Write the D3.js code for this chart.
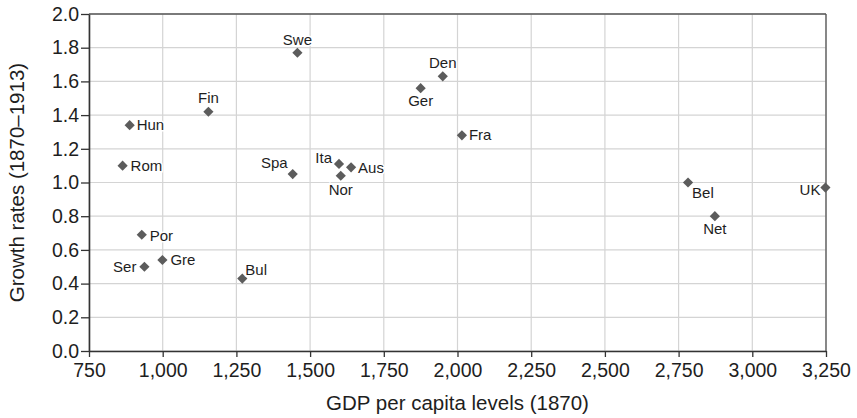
<!DOCTYPE html>
<html>
<head>
<meta charset="utf-8">
<script src="https://cdn.jsdelivr.net/npm/d3@7"></script>
<style>
  html, body { margin: 0; padding: 0; background: #fff; }
  svg { display: block; font-family: "Liberation Sans", Arial, Helvetica, sans-serif; }
</style>
</head>
<body>
<svg id="chart" width="857" height="418"></svg>
<script>
// Country codes with GDP per capita (1870) and growth rate 1870–1913
const countries = ["Hun","Rom","Fin","Spa","Swe","Por","Ser","Gre","Bul","Den","Ger","Fra","Ita","Aus","Nor","Bel","Net","UK"];
const gdp1870   = [888, 864, 1155, 1441, 1457, 929, 938, 999, 1270, 1950, 1875, 2015, 1598, 1639, 1604, 2782, 2873, 3248];
const growth    = [1.34, 1.10, 1.42, 1.05, 1.77, 0.69, 0.50, 0.54, 0.43, 1.63, 1.56, 1.28, 1.11, 1.09, 1.04, 1.00, 0.80, 0.97];

const xTicks = [750, 1000, 1250, 1500, 1750, 2000, 2250, 2500, 2750, 3000, 3250];
const yTicks = [0, 0.2, 0.4, 0.6, 0.8, 1.0, 1.2, 1.4, 1.6, 1.8, 2.0];

const xTitle = "GDP per capita levels (1870)";
const yTitle = "Growth rates (1870–1913)";

// Label placement around each marker: offset and text anchor
const labelPlacement = {
  Hun: { dx: 7,  dy: 5,   anchor: "start" },
  Rom: { dx: 8,  dy: 5,   anchor: "start" },
  Fin: { dx: 0,  dy: -9,  anchor: "middle" },
  Spa: { dx: -5, dy: -6,  anchor: "end" },
  Swe: { dx: 0,  dy: -8,  anchor: "middle" },
  Por: { dx: 8,  dy: 6,   anchor: "start" },
  Ser: { dx: -8, dy: 5,   anchor: "end" },
  Gre: { dx: 8,  dy: 5,   anchor: "start" },
  Bul: { dx: 3,  dy: -4,  anchor: "start" },
  Den: { dx: 0,  dy: -8,  anchor: "middle" },
  Ger: { dx: 0,  dy: 18,  anchor: "middle" },
  Fra: { dx: 7,  dy: 5,   anchor: "start" },
  Ita: { dx: -7, dy: -1,  anchor: "end" },
  Aus: { dx: 7,  dy: 6,   anchor: "start" },
  Nor: { dx: 0,  dy: 19,  anchor: "middle" },
  Bel: { dx: 4,  dy: 15,  anchor: "start" },
  Net: { dx: 0,  dy: 18,  anchor: "middle" },
  UK:  { dx: -5, dy: 7,   anchor: "end" }
};

const points = countries.map((c, i) => ({ name: c, x: gdp1870[i], y: growth[i] }));

const svg = d3.select("#chart");
const W = 857, H = 418;
const margin = { top: 14, right: 31, bottom: 67, left: 89 };
const iw = W - margin.left - margin.right;
const ih = H - margin.top - margin.bottom;

const x = d3.scaleLinear().domain([750, 3250]).range([0, iw]);
const y = d3.scaleLinear().domain([0, 2]).range([ih, 0]);

const g = svg.append("g").attr("transform", `translate(${margin.left},${margin.top})`);

// Grid
g.append("g").selectAll("line.v").data(xTicks).join("line")
  .attr("x1", d => x(d)).attr("x2", d => x(d))
  .attr("y1", 0).attr("y2", ih)
  .attr("stroke", "#d4d4d4").attr("stroke-width", 1.2);
g.append("g").selectAll("line.h").data(yTicks).join("line")
  .attr("x1", 0).attr("x2", iw)
  .attr("y1", d => y(d)).attr("y2", d => y(d))
  .attr("stroke", "#d4d4d4").attr("stroke-width", 1.2);

// Top and right frame
g.append("line").attr("x1", 0).attr("x2", iw).attr("y1", 0).attr("y2", 0)
  .attr("stroke", "#555").attr("stroke-width", 1.3);
g.append("line").attr("x1", iw).attr("x2", iw).attr("y1", 0).attr("y2", ih)
  .attr("stroke", "#555").attr("stroke-width", 1.3);

// Axes
const fmtX = d3.format(",");
const fmtY = d3.format(".1f");

const xAxis = g.append("g").attr("transform", `translate(0,${ih})`)
  .call(d3.axisBottom(x).tickValues(xTicks).tickFormat(fmtX).tickSize(6).tickPadding(6).tickSizeOuter(0));
const yAxis = g.append("g")
  .call(d3.axisLeft(y).tickValues(yTicks).tickFormat(fmtY).tickSize(8).tickPadding(2).tickSizeOuter(0));

[xAxis, yAxis].forEach(a => {
  a.select(".domain").attr("stroke", "#333").attr("stroke-width", 1.6);
  a.selectAll(".tick line").attr("stroke", "#333").attr("stroke-width", 1.3);
  a.selectAll(".tick text").attr("fill", "#1e1e1e").style("font-size", "19.5px")
    .style("font-family", "'Liberation Sans', Arial, Helvetica, sans-serif");
});

// Axis titles
svg.append("text")
  .attr("x", margin.left + iw / 2).attr("y", 410)
  .attr("text-anchor", "middle").attr("fill", "#1e1e1e")
  .style("font-size", "20.5px").text(xTitle);
svg.append("text")
  .attr("transform", `translate(24,${margin.top + ih / 2}) rotate(-90)`)
  .attr("text-anchor", "middle").attr("fill", "#1e1e1e")
  .style("font-size", "20.5px").text(yTitle);

// Markers (diamonds)
const diamond = d3.symbol().type(d3.symbolSquare).size(52);
g.append("g").selectAll("path").data(points).join("path")
  .attr("d", diamond)
  .attr("transform", d => `translate(${x(d.x)},${y(d.y)}) rotate(45)`)
  .attr("fill", "#5c5c5c");

// Point labels with a white halo so gridlines break behind them
g.append("g").selectAll("text").data(points).join("text")
  .attr("x", d => x(d.x) + labelPlacement[d.name].dx)
  .attr("y", d => y(d.y) + labelPlacement[d.name].dy)
  .attr("text-anchor", d => labelPlacement[d.name].anchor)
  .attr("fill", "#1e1e1e")
  .attr("stroke", "#fff").attr("stroke-width", 3).attr("paint-order", "stroke")
  .style("font-size", "15px")
  .text(d => d.name);
</script>
</body>
</html>
